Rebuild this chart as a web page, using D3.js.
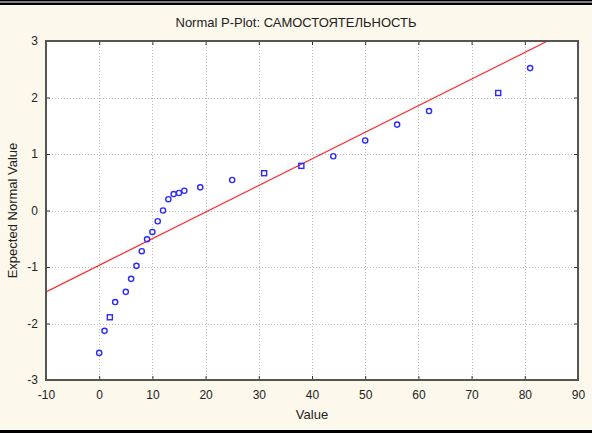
<!DOCTYPE html>
<html><head><meta charset="utf-8">
<script src="https://cdn.jsdelivr.net/npm/d3@7/dist/d3.min.js"></script>
<style>
html,body{margin:0;padding:0;background:#fdf8ec;}
svg{display:block;}
text{font-family:Arial,"Liberation Sans",sans-serif;fill:#222;}
</style></head><body>
<script>
// data
const values   = [0,1,2,3,5,6,7,8,9,10,11,12,13,14,15,16,19,25,31,38,44,50,56,62,75,81];
const expected = [-2.52,-2.13,-1.89,-1.62,-1.44,-1.21,-0.98,-0.72,-0.51,-0.38,-0.19,0.0,0.20,0.29,0.31,0.35,0.41,0.54,0.66,0.79,0.96,1.24,1.52,1.76,2.08,2.52];
const squareMarkers = [2,31,38,75];   // values drawn with square markers
const lineX = [-10, 84.3];
const lineY = [-1.44, 3];
const xTicks = [-10,0,10,20,30,40,50,60,70,80,90];
const yTicks = [-3,-2,-1,0,1,2,3];
const title = "Normal P-Plot: САМОСТОЯТЕЛЬНОСТЬ";
const xLabel = "Value";
const yLabel = "Expected Normal Value";

const W = 592, H = 433;
const m = {l:46, r:578, t:41, b:380};
const svg = d3.select("body").append("svg").attr("width",W).attr("height",H);

svg.append("rect").attr("x",0).attr("y",0).attr("width",W).attr("height",H).attr("fill","#fdf8ec");
// outer frame bands
svg.append("rect").attr("x",0).attr("y",0).attr("width",W).attr("height",5).attr("fill","#000");
svg.append("rect").attr("x",0).attr("y",1.5).attr("width",W).attr("height",1).attr("fill","#fff");
svg.append("rect").attr("x",0).attr("y",430).attr("width",W).attr("height",3).attr("fill","#000");

const x = d3.scaleLinear().domain([-10,90]).range([m.l,m.r]);
const y = d3.scaleLinear().domain([-3,3]).range([m.b,m.t]);

svg.append("rect").attr("x",m.l).attr("y",m.t).attr("width",m.r-m.l).attr("height",m.b-m.t).attr("fill","#fff");

// grid
const grid = svg.append("g").attr("stroke","#bdbdbd").attr("stroke-width",1).attr("stroke-dasharray","1,2");
grid.selectAll(".gx").data(xTicks.slice(1,-1)).join("line")
  .attr("x1",d=>Math.round(x(d))+0.5).attr("x2",d=>Math.round(x(d))+0.5).attr("y1",m.t).attr("y2",m.b);
grid.selectAll(".gy").data(yTicks.slice(1,-1)).join("line")
  .attr("y1",d=>Math.round(y(d))+0.5).attr("y2",d=>Math.round(y(d))+0.5).attr("x1",m.l).attr("x2",m.r);

// axes
const fmt = d => String(d);
function styleAxis(g){
  g.select(".domain").remove();
  g.selectAll(".tick line").attr("stroke","#333");
  g.selectAll(".tick text").attr("font-size","12px").attr("fill","#222").style("font-family","Arial, 'Liberation Sans', sans-serif");
}
svg.append("g").attr("transform",`translate(0,${m.b})`)
  .call(d3.axisBottom(x).tickValues(xTicks).tickSize(-4).tickPadding(10).tickFormat(fmt)).call(styleAxis);
svg.append("g").attr("transform",`translate(0,${m.t})`)
  .call(d3.axisTop(x).tickValues(xTicks).tickSize(-4).tickFormat("")).call(styleAxis);
svg.append("g").attr("transform",`translate(${m.l},0)`)
  .call(d3.axisLeft(y).tickValues(yTicks).tickSize(-4).tickPadding(8).tickFormat(fmt)).call(styleAxis);
svg.append("g").attr("transform",`translate(${m.r},0)`)
  .call(d3.axisRight(y).tickValues(yTicks).tickSize(-4).tickFormat("")).call(styleAxis);

// fitted line
svg.append("clipPath").attr("id","clip").append("rect").attr("x",m.l).attr("y",m.t).attr("width",m.r-m.l).attr("height",m.b-m.t);
svg.append("path").datum(lineX.map((v,i)=>[v,lineY[i]]))
  .attr("d",d3.line().x(d=>x(d[0])).y(d=>y(d[1])))
  .attr("fill","none").attr("stroke","#ff2020").attr("stroke-width",1.2).attr("clip-path","url(#clip)");

// points
const pts = values.map((v,i)=>({v, z:expected[i], sq: squareMarkers.includes(v)}));
const pg = svg.append("g").attr("fill","none").attr("stroke","#2a2aff").attr("stroke-width",1.4);
pg.selectAll("circle").data(pts.filter(d=>!d.sq)).join("circle")
  .attr("cx",d=>x(d.v)).attr("cy",d=>y(d.z)).attr("r",2.6);
pg.selectAll("rect").data(pts.filter(d=>d.sq)).join("rect")
  .attr("x",d=>x(d.v)-2.5).attr("y",d=>y(d.z)-2.5).attr("width",5).attr("height",5);

// frame
svg.append("rect").attr("x",m.l).attr("y",m.t).attr("width",m.r-m.l).attr("height",m.b-m.t)
  .attr("fill","none").attr("stroke","#555").attr("stroke-width",2);

// texts
svg.append("text").attr("x",296).attr("y",27).attr("text-anchor","middle").attr("font-size","13px").text(title);
svg.append("text").attr("x",(m.l+m.r)/2).attr("y",419).attr("text-anchor","middle").attr("font-size","13px").text(xLabel);
svg.append("text").attr("transform",`translate(17,${(m.t+m.b)/2}) rotate(-90)`).attr("text-anchor","middle").attr("font-size","13px").text(yLabel);
</script>
</body></html>
